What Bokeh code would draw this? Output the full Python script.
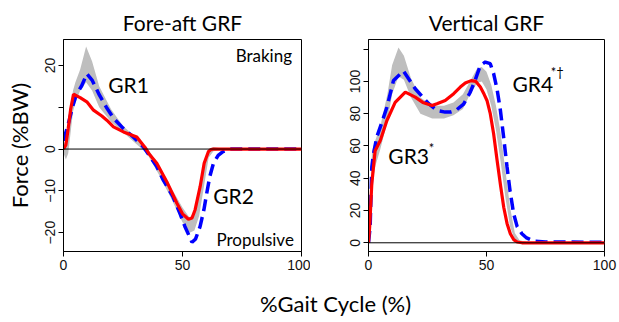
from bokeh.plotting import figure
from bokeh.models import Range1d, FixedTicker, Label, Span
from bokeh.layouts import row, column
from bokeh.embed import file_html
from bokeh.resources import INLINE

# ---------------- data ----------------
# Fore-aft GRF (%BW) vs %gait cycle
fa_band_x = [0, 1, 2, 3, 4, 5, 7, 9.5, 12, 15, 20, 25, 30, 35, 40, 45, 50, 53, 55, 57, 59, 61, 63, 66, 70, 100]
fa_band_hi = [2, 1, 4, 10, 14, 16, 19, 24.5, 21, 15, 9.5, 5.5, 3, 0.5, -4, -9, -14, -16.4, -15, -10, -4, 0, 0.5, 0.2, 0, 0]
fa_band_lo = [-1, -2.5, -1, 4, 9, 11, 14, 16, 14, 10, 6.5, 4, 1.5, -1, -6, -11.5, -17.5, -20, -19.5, -16, -9, -2, -0.5, -0.2, 0, 0]

fa_blue_x = [0, 2, 4, 5.3, 7.7, 9.8, 12, 15, 18, 21, 25, 29.3, 33.6, 36, 39.2, 42, 46, 49, 51, 54, 55.5, 57.4, 59, 60.2, 61.5, 63, 65, 67, 70, 100]
fa_blue_y = [2, 6, 10.5, 12.9, 15.2, 18, 16.5, 13, 10, 7.4, 5, 2.9, 0.5, -1.5, -4.2, -7.5, -11.4, -15.5, -18.5, -22.3, -21.5, -18.5, -14.5, -10.5, -6.5, -3.4, -1.5, -0.6, 0, 0]

fa_red_x = [0, 1, 2, 3, 4.2, 7, 9.8, 12.6, 16.1, 18.2, 21, 25.2, 30.8, 34.5, 36, 39.2, 43.4, 47.6, 50, 52.5, 54, 55.3, 57.4, 59.1, 60.9, 62, 63, 100]
fa_red_y = [0, 1, 5, 9.5, 13.1, 12.3, 11.3, 9.3, 7.9, 6.9, 5.3, 4.1, 2.9, 0.2, -1.2, -3.4, -7.8, -12.9, -15.5, -16.8, -16.5, -14.5, -9, -3.4, -0.6, -0.1, 0, 0]

# Vertical GRF (%BW)
v_band_x = [0, 1.5, 3, 5, 8, 10, 12.7, 15, 18, 22, 27, 32, 36, 40, 43, 46, 48, 50, 52, 54, 56, 58, 60, 62, 64, 67, 100]
v_band_hi = [2, 57, 64, 72, 92, 110, 121, 116, 102, 90, 85, 85, 87, 92, 100, 108, 109, 106, 98, 85, 68, 45, 22, 6, 1.5, 0.5, 0.5]
v_band_lo = [0, 36, 48, 58, 75, 92, 103, 101, 90, 80, 77, 77, 79, 83, 92, 99, 100, 95, 85, 70, 50, 28, 10, 2, 0, 0, 0]

v_blue_x = [0, 0.7, 1.4, 2.1, 3.5, 5.7, 7.8, 10.6, 14.8, 19.8, 25.5, 29, 32.5, 34.7, 37, 40.3, 43, 45, 47.4, 49.5, 51.6, 53, 54.5, 55.9, 57.3, 58.7, 60, 61.5, 63, 65, 67, 70, 75, 100]
v_blue_y = [0, 10, 47, 55, 65.5, 74.8, 84, 100.6, 106.5, 95.5, 86.2, 82, 81, 81, 82, 86, 93, 100, 110, 112, 111, 105, 95, 82, 65, 47, 32, 18, 10, 5.6, 3, 1, 0.5, 0.3]

v_red_x = [0, 0.5, 1.4, 2.8, 3.5, 5, 7.8, 11.3, 15.6, 19.8, 23, 26.9, 29, 32.5, 36.1, 38.9, 41, 43.5, 45.5, 47.4, 49, 50.2, 51.6, 53, 54.5, 56, 57.3, 58.7, 60.1, 61.5, 63, 65, 100]
v_red_y = [0, 10, 36.6, 57, 59, 63.4, 75.8, 87, 93.4, 90.3, 87, 85.1, 86.2, 88.2, 92.4, 96.5, 99, 100.5, 100, 96.5, 92, 88.2, 80, 67.7, 51, 35, 22, 12, 5.6, 2, 0.5, 0, 0]

x_ticks = [0, 50, 100]
fa_y_ticks = [-20, -10, 0, 10, 20]
v_y_ticks = [0, 20, 40, 60, 80, 100, 120]

TXT_FONT = "Lato"
TICK_FONT = "Liberation Sans"


def style(p, yticks, hidden, title_offset):
    p.xgrid.visible = False
    p.ygrid.visible = False
    p.outline_line_color = "black"
    p.outline_line_alpha = 1
    p.outline_line_width = 1
    p.background_fill_color = "white"
    p.border_fill_color = "white"
    p.title.align = "center"
    p.title.text_font = TXT_FONT
    p.title.text_font_size = "21px"
    p.title.text_font_style = "normal"
    p.title.text_color = "black"
    p.title.offset = title_offset
    p.title.standoff = 9
    for ax in (p.xaxis[0], p.yaxis[0]):
        ax.axis_line_color = "black"
        ax.major_tick_line_color = "black"
        ax.major_tick_out = 5
        ax.major_tick_in = 0
        ax.minor_tick_line_color = None
        ax.major_label_text_font = TICK_FONT
        ax.major_label_text_font_size = "14px"
        ax.major_label_text_color = "#111111"
        ax.major_label_standoff = 3
    p.xaxis[0].ticker = FixedTicker(ticks=x_ticks)
    p.yaxis[0].ticker = FixedTicker(ticks=yticks)
    p.yaxis[0].major_label_orientation = "vertical"
    p.yaxis[0].major_label_overrides = {t: "" for t in hidden}


def draw(p, bx, blo, bhi, blx, bly, rx, ry):
    p.varea(x=bx, y1=blo, y2=bhi, fill_color="#BEBEBE", fill_alpha=1)
    p.add_layout(Span(location=0, dimension="width", line_color="black", line_width=1))
    p.line(blx, bly, line_color="#0000FF", line_width=3.5, line_dash="12 6")
    p.line(rx, ry, line_color="#FF0000", line_width=3.2)


def lab(p, x, y, t, size, align="left", units="data"):
    p.add_layout(Label(x=x, y=y, text=t, x_units=units, y_units=units,
                       text_font=TXT_FONT, text_font_size=size, text_align=align,
                       text_baseline="middle", text_color="black"))


# ---------------- left: fore-aft ----------------
f1 = figure(width=310, height=284, x_range=Range1d(0, 100), y_range=Range1d(-24.5, 26.2),
            title="Fore-aft GRF",
            min_border_left=63, min_border_right=9, min_border_top=39, min_border_bottom=32,
            output_backend="svg", toolbar_location=None)
style(f1, fa_y_ticks, [10], -11)
f1.yaxis[0].axis_label = "Force (%BW)"
f1.yaxis[0].axis_label_text_font = TXT_FONT
f1.yaxis[0].axis_label_text_font_size = "22px"
f1.yaxis[0].axis_label_text_font_style = "normal"
f1.yaxis[0].axis_label_text_color = "black"
f1.yaxis[0].axis_label_standoff = 10
draw(f1, fa_band_x, fa_band_lo, fa_band_hi, fa_blue_x, fa_blue_y, fa_red_x, fa_red_y)
lab(f1, 96, 22.4, "Braking", "17px", "right")
lab(f1, 96.8, -21.7, "Propulsive", "17px", "right")
lab(f1, 18.8, 15.4, "GR1", "21px")
lab(f1, 62.9, -11.1, "GR2", "21px")

# ---------------- right: vertical ----------------
f2 = figure(width=309, height=284, x_range=Range1d(0, 100), y_range=Range1d(-5.4, 126),
            title="Vertical GRF",
            min_border_left=58, min_border_right=15, min_border_top=39, min_border_bottom=33,
            output_backend="svg", toolbar_location=None)
style(f2, v_y_ticks, [120], -3.5)
draw(f2, v_band_x, v_band_lo, v_band_hi, v_blue_x, v_blue_y, v_red_x, v_red_y)
lab(f2, 8.4, 53.8, "GR3", "21px")
lab(f2, 25.5, 58.5, "*", "13px")
lab(f2, 61, 99, "GR4", "21px")
lab(f2, 77.2, 106, "*\u2020", "13px")

# ---------------- shared x label ----------------
f3 = figure(width=619, height=38, x_range=Range1d(0, 619), y_range=Range1d(0, 38),
            min_border=0, output_backend="svg", toolbar_location=None)
f3.axis.visible = False
f3.xgrid.visible = False
f3.ygrid.visible = False
f3.outline_line_color = None
f3.background_fill_color = "white"
f3.border_fill_color = "white"
lab(f3, 335, 19, "%Gait Cycle (%)", "22px", "center", "screen")

layout = column(row(f1, f2), f3)
open("out.html", "w").write(file_html(layout, INLINE))
